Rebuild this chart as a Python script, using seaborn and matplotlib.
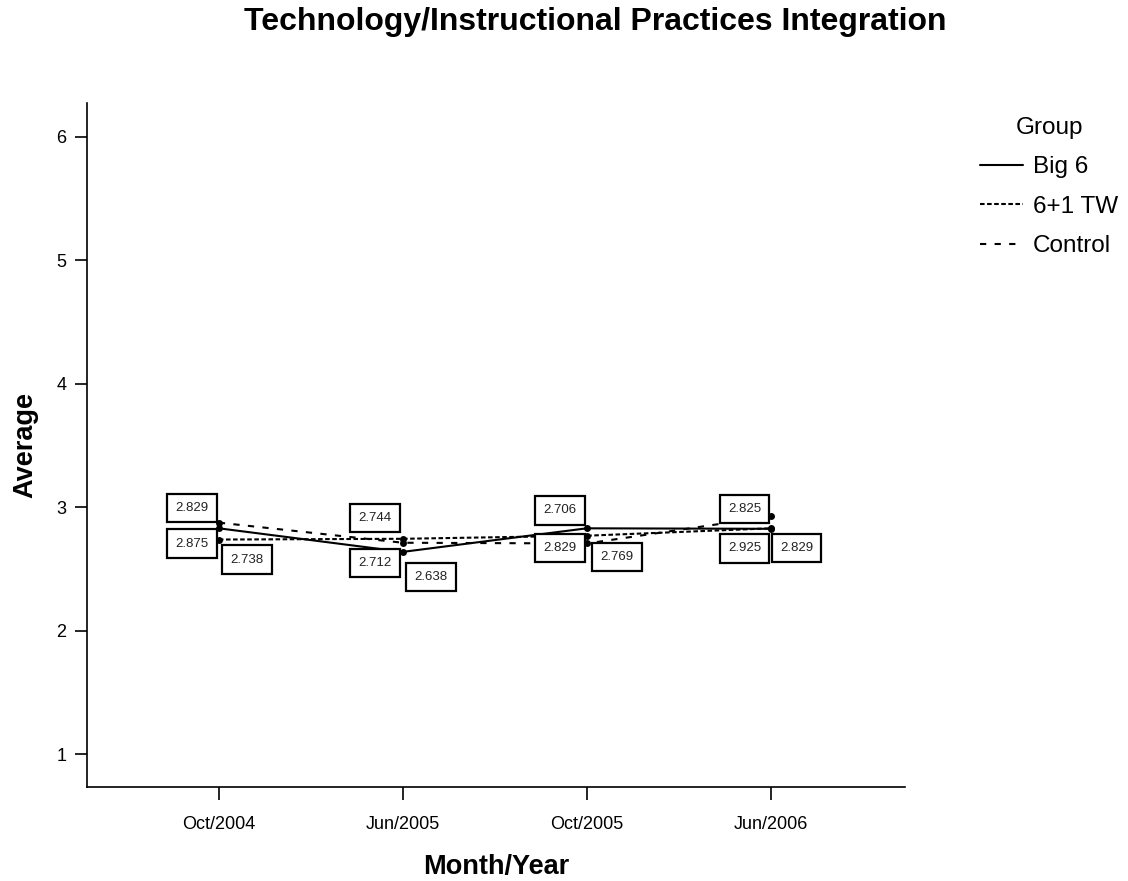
import matplotlib
matplotlib.use("Agg")
import matplotlib.pyplot as plt
import seaborn as sns
import pandas as pd

periods = ["Oct/2004", "Jun/2005", "Oct/2005", "Jun/2006"]
groups = ["Big 6", "6+1 TW", "Control"]
big6 = [2.829, 2.638, 2.829, 2.825]
tw61 = [2.738, 2.744, 2.769, 2.829]
control = [2.875, 2.712, 2.706, 2.925]

# label text, series, period index, offset (pixels)
label_specs = [
    ("2.829", "Big 6", 0, (-27, 20)), ("2.875", "Control", 0, (-27, -21)), ("2.738", "6+1 TW", 0, (28, -20)),
    ("2.744", "6+1 TW", 1, (-28, 21)), ("2.712", "Control", 1, (-28, -20)), ("2.638", "Big 6", 1, (28, -25)),
    ("2.706", "Control", 2, (-27, 33)), ("2.829", "Big 6", 2, (-27, -20)), ("2.769", "6+1 TW", 2, (30, -21)),
    ("2.825", "Big 6", 3, (-26, 20)), ("2.925", "Control", 3, (-26, -32)), ("2.829", "6+1 TW", 3, (26, -20)),
]

series = {"Big 6": big6, "6+1 TW": tw61, "Control": control}
rows = []
for g in groups:
    for i, v in enumerate(series[g]):
        rows.append({"pos": i, "Average": v, "Group": g})
df = pd.DataFrame(rows)

sns.set_style("white")
plt.rcParams["font.family"] = ["Liberation Sans", "DejaVu Sans"]
plt.rcParams["text.color"] = "black"
plt.rcParams["axes.labelcolor"] = "black"
plt.rcParams["xtick.color"] = "black"
plt.rcParams["ytick.color"] = "black"

fig = plt.figure(figsize=(11.28, 8.81), dpi=100)
ax = fig.add_axes([87/1128, 1 - 787/881, (905-87)/1128, (787-103)/881])

sns.lineplot(data=df, x="pos", y="Average", hue="Group", style="Group",
             hue_order=groups, style_order=groups,
             palette={g: "black" for g in groups},
             dashes={"Big 6": "", "6+1 TW": (2.2, 1.2), "Control": (3, 4)},
             markers={g: "o" for g in groups}, markersize=5, markeredgewidth=0,
             linewidth=1.5, ax=ax, legend=True)

for text, g, i, (dx, dy) in label_specs:
    ax.annotate(text, xy=(i, series[g][i]), xytext=(dx, dy), textcoords="offset pixels",
                ha="center", va="center", fontsize=9.5, color="#222222",
                bbox=dict(boxstyle="square,pad=0.62", fc="white", ec="black", lw=1.6))

ax.set_xlim(-0.717, 3.73)
ax.set_ylim(0.733, 6.275)
ax.set_xticks(range(len(periods)))
ax.set_xticklabels(periods, fontsize=13)
ax.set_yticks([1, 2, 3, 4, 5, 6])
ax.set_yticklabels(["1", "2", "3", "4", "5", "6"], fontsize=13)
ax.tick_params(axis="both", direction="out", length=9, width=1.2, color="black", left=True, bottom=True)
ax.tick_params(axis="x", pad=12)
ax.tick_params(axis="y", pad=6)
for s in ["top", "right"]:
    ax.spines[s].set_visible(False)
for s in ["left", "bottom"]:
    ax.spines[s].set_color("black")
    ax.spines[s].set_linewidth(1.2)
ax.set_xlabel("Month/Year", fontsize=19.5, fontweight="bold", labelpad=15)
ax.set_ylabel("Average", fontsize=19.5, fontweight="bold", labelpad=13)

leg = ax.legend(title="Group", loc="upper left", bbox_to_anchor=(970/1128, 1 - 107/881),
                bbox_transform=fig.transFigure, frameon=False, fontsize=17.5, title_fontsize=17.5,
                handlelength=1.8, handletextpad=0.4, labelspacing=0.72, borderaxespad=0)
leg._legend_box.align = "center"
for h in leg.legend_handles:
    h.set_marker("")
    h.set_color("black")

fig.text(0.528, 1 - 22/881, "Technology/Instructional Practices Integration",
         ha="center", va="center", fontsize=23, fontweight="bold")

fig.savefig("out.png", dpi=100)
